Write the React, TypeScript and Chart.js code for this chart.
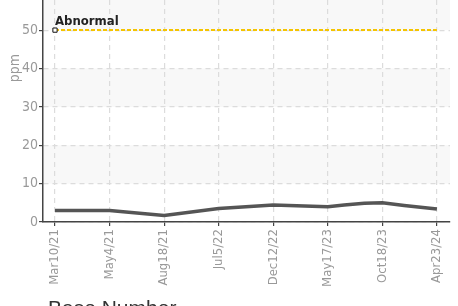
import React, { useEffect, useRef } from "react";
import { Chart, registerables } from "chart.js";

Chart.register(...registerables);

const tickLabels = ["Mar10/21", "May4/21", "Aug18/21", "Jul5/22", "Dec12/22", "May17/23", "Oct18/23", "Apr23/24"];
const sampleX = [0, 1, 2, 3, 4, 5, 5.3, 5.67, 6, 6.4, 7];
const sampleY = [3.0, 3.0, 1.7, 3.5, 4.4, 4.0, 4.4, 4.9, 5.0, 4.3, 3.4];
const abnormalLevel = 50;
const abnormalLabel = "Abnormal";
const yTitle = "ppm";
const xTitle = "Base Number";

const NARROW = "'DejaVu Sans Condensed', 'Roboto', sans-serif";
const SHIFT = 5;

export default function App() {
  const ref = useRef<HTMLCanvasElement | null>(null);

  useEffect(() => {
    document.body.style.margin = "0";
    const canvas = ref.current!;
    const yMax = 57.85;

    const bandsPlugin = {
      id: "bands",
      beforeDraw(chart: any) {
        const { ctx, chartArea, scales } = chart;
        const y = scales.y;
        ctx.save();
        ctx.fillStyle = "#ffffff";
        ctx.fillRect(chartArea.left, chartArea.top, chartArea.right - chartArea.left, chartArea.bottom - chartArea.top);
        ctx.fillStyle = "#f8f8f8";
        const bands = [[10, 20], [30, 40], [50, yMax]];
        for (const [a, b] of bands) {
          const y1 = y.getPixelForValue(b);
          const y2 = y.getPixelForValue(a);
          ctx.fillRect(chartArea.left, y1, chartArea.right - chartArea.left, y2 - y1);
        }
        ctx.restore();
      },
      afterDraw(chart: any) {
        const { ctx, scales } = chart;
        const x = scales.x;
        const y = scales.y;
        ctx.save();
        ctx.font = "bold 13px " + NARROW;
        ctx.fillStyle = "#222";
        ctx.textAlign = "left";
        ctx.textBaseline = "alphabetic";
        ctx.fillText(abnormalLabel, x.getPixelForValue(0), y.getPixelForValue(abnormalLevel) - 5);
        ctx.translate(15, 68 + SHIFT);
        ctx.rotate(-Math.PI / 2);
        ctx.font = "14px " + NARROW;
        ctx.fillStyle = "#999";
        ctx.textAlign = "center";
        ctx.textBaseline = "middle";
        ctx.fillText(yTitle, 0, 0);
        ctx.restore();
      },
    };

    const chart = new Chart(canvas, {
      type: "line",
      data: {
        datasets: [
          {
            label: "abnormal",
            data: [
              { x: 0, y: abnormalLevel },
              { x: tickLabels.length - 1, y: abnormalLevel },
            ],
            borderColor: "#f5c400",
            borderWidth: 2,
            borderDash: [4, 2],
            pointRadius: (c: any) => (c.dataIndex === 0 ? 3 : 0),
            pointStyle: "rect",
            pointBackgroundColor: "#ffffff",
            pointBorderColor: "#111",
            pointBorderWidth: 1,
            order: 1,
          },
          {
            label: "value",
            data: sampleX.map((v, i) => ({ x: v, y: sampleY[i] })),
            borderColor: "#555555",
            borderWidth: 3.5,
            pointRadius: 0,
            tension: 0,
            order: 0,
          },
        ],
      },
      options: {
        animation: false,
        responsive: false,
        layout: { padding: { top: 0, right: 8, left: 0, bottom: 0 } },
        plugins: { legend: { display: false }, tooltip: { enabled: false } },
        scales: {
          x: {
            type: "linear",
            min: -0.22,
            max: 7.24,
            afterBuildTicks(scale: any) {
              scale.ticks = tickLabels.map((_, i) => ({ value: i }));
            },
            afterFit(scale: any) {
              scale.height = 84;
              scale.paddingLeft = 0;
              scale.paddingRight = 0;
            },
            ticks: {
              autoSkip: false,
              minRotation: 90,
              maxRotation: 90,
              padding: 3,
              color: "#999",
              font: { family: NARROW, size: 13 },
              callback: (v: any) => tickLabels[Math.round(Number(v))] ?? "",
            },
            grid: {
              color: "#dcdcdc",
              lineWidth: 1.2,
              tickColor: "#444",
              tickLength: 4,
              tickWidth: 1.2,
            },
            border: { display: true, color: "#444", width: 1.5, dash: [5, 4] },
          },
          y: {
            min: 0,
            max: yMax,
            afterBuildTicks(scale: any) {
              scale.ticks = [0, 10, 20, 30, 40, 50].map((v) => ({ value: v }));
            },
            afterFit(scale: any) {
              scale.width = 43;
              scale.paddingTop = 0;
              scale.paddingBottom = 0;
            },
            ticks: {
              padding: 1,
              color: "#999",
              font: { family: NARROW, size: 14 },
            },
            grid: {
              color: "#dcdcdc",
              lineWidth: 1.2,
              tickColor: "#444",
              tickLength: 4,
              tickWidth: 1.2,
            },
            border: { display: true, color: "#444", width: 1.5, dash: [5, 4] },
          },
        },
      },
      plugins: [bandsPlugin],
    } as any);

    return () => chart.destroy();
  }, []);

  return (
    <div style={{ position: "relative", width: 458, height: 306, overflow: "hidden" }}>
      <canvas
        ref={ref}
        width={458}
        height={306 + SHIFT}
        style={{ display: "block", position: "absolute", left: 0, top: -SHIFT }}
      />
      <div
        style={{
          position: "absolute",
          left: 48,
          top: 296,
          fontFamily: "'Liberation Sans', Arial, sans-serif",
          fontSize: 21,
          lineHeight: "24px",
          color: "#333",
          whiteSpace: "nowrap",
        }}
      >
        {xTitle}
      </div>
    </div>
  );
}
